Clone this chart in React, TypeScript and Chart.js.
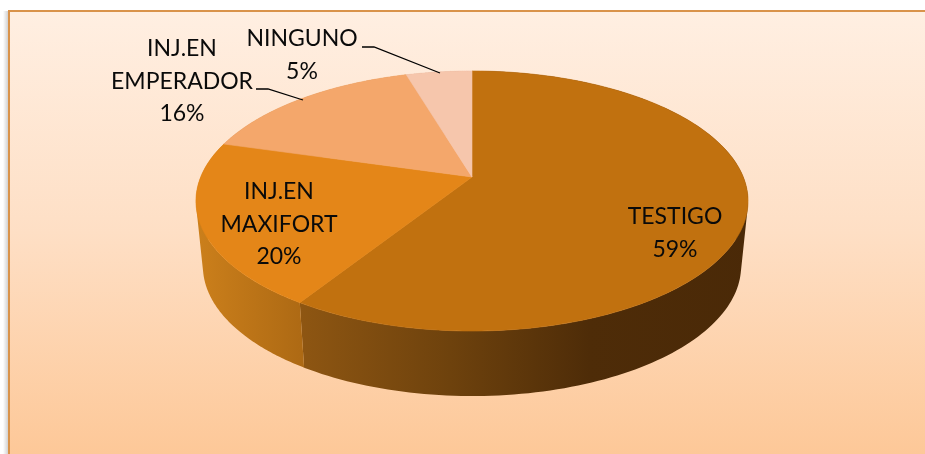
import React, { useEffect, useRef } from "react";
import { Chart, registerables } from "chart.js";

Chart.register(...registerables);

const categories = ["TESTIGO", "INJ.EN MAXIFORT", "INJ.EN EMPERADOR", "NINGUNO"];
const shares = [59.0, 20.45, 15.95, 4.6];
const topColors = ["#c1710f", "#e48618", "#f4a76b", "#f6c6ac"];
const wallStops = [
  [[300, "#8e5612"], [450, "#6e420d"], [590, "#4e2c08"], [760, "#4a2907"]],
  [[198, "#cb7f1b"], [300, "#ae6a14"]],
  [[220, "#d08a4e"], [410, "#d08a4e"]],
  [[400, "#d0a58a"], [475, "#d0a58a"]],
] as [number, string][][];
const labelLines = [["TESTIGO"], ["INJ.EN", "MAXIFORT"], ["INJ.EN", "EMPERADOR"], ["NINGUNO"]];
const labelAnchors = [[675, 217], [279, 192], [182, 49], [302, 39]];
const leaderLines = [
  [],
  [],
  [[256, 89], [268, 89], [303, 100]],
  [[362, 47], [374, 47], [440, 73]],
];

const W = 925;
const H = 454;
const P = -0.1846;
const TOP = { cx: 472, cy: 177, a: 271.3, b: 125.6 };
const BOT = { cx: 472, cy: 242, a: 264.5, b: 125.6 };

function project(f: typeof TOP, t: number): [number, number] {
  const u = Math.cos(t);
  const v = Math.sin(t);
  const w = 1 + P * v;
  return [f.cx + (f.a * u) / w, f.cy + (f.b * v) / w];
}

function area(q: [number, number][]) {
  let s = 0;
  q.forEach((p, i) => {
    const r = q[(i + 1) % q.length];
    s += p[0] * r[1] - r[0] * p[1];
  });
  return s;
}

const pie3d = {
  id: "pie3d",
  beforeDraw(chart: any) {
    const { ctx } = chart;
    ctx.save();
    ctx.clearRect(0, 0, W, H);
    ctx.fillStyle = "#ffffff";
    ctx.fillRect(0, 0, W, H);
    const sh = ctx.createLinearGradient(3, 0, 8, 0);
    sh.addColorStop(0, "rgba(90,90,90,0)");
    sh.addColorStop(1, "rgba(90,90,90,0.28)");
    ctx.fillStyle = sh;
    ctx.fillRect(3, 11, 5, H);
    const bg = ctx.createLinearGradient(0, 10, 0, H);
    bg.addColorStop(0, "#ffefe2");
    bg.addColorStop(0.5, "#fedfc5");
    bg.addColorStop(1, "#fdc898");
    ctx.fillStyle = bg;
    ctx.fillRect(8, 10, W - 8, H - 10);
    ctx.fillStyle = "#d9934b";
    ctx.fillRect(8, 10, W - 8, 2);
    ctx.fillRect(8, 10, 2, H - 10);
    ctx.restore();
  },
  beforeDatasetDraw(chart: any) {
    const { ctx } = chart;
    const arcs = chart.getDatasetMeta(0).data;
    ctx.save();
    arcs.forEach((arc: any, i: number) => {
      const x0 = wallStops[i][0][0];
      const x1 = wallStops[i][wallStops[i].length - 1][0];
      const g = ctx.createLinearGradient(x0, 0, x1, 0);
      wallStops[i].forEach(([x, c]) => g.addColorStop((x - x0) / (x1 - x0), c));
      ctx.fillStyle = g;
      ctx.beginPath();
      const n = 160;
      for (let k = 0; k < n; k++) {
        const t0 = arc.startAngle + ((arc.endAngle - arc.startAngle) * k) / n;
        const t1 = arc.startAngle + ((arc.endAngle - arc.startAngle) * (k + 1)) / n;
        let q = [project(TOP, t0), project(TOP, t1), project(BOT, t1), project(BOT, t0)];
        if (area(q) < 0) q = q.reverse();
        ctx.moveTo(q[0][0], q[0][1]);
        for (let m = 1; m < 4; m++) ctx.lineTo(q[m][0], q[m][1]);
        ctx.closePath();
      }
      ctx.fill();
    });
    arcs.forEach((arc: any) => {
      ctx.fillStyle = arc.options.backgroundColor;
      ctx.strokeStyle = arc.options.backgroundColor;
      ctx.lineWidth = 0.6;
      ctx.beginPath();
      ctx.moveTo(TOP.cx, TOP.cy);
      const n = 200;
      for (let k = 0; k <= n; k++) {
        const p = project(TOP, arc.startAngle + ((arc.endAngle - arc.startAngle) * k) / n);
        ctx.lineTo(p[0], p[1]);
      }
      ctx.closePath();
      ctx.fill();
      ctx.stroke();
    });
    ctx.restore();
    return false;
  },
  afterDraw(chart: any) {
    const { ctx } = chart;
    const values: number[] = chart.data.datasets[0].data;
    const total = values.reduce((s, v) => s + v, 0);
    ctx.save();
    ctx.strokeStyle = "#000000";
    ctx.lineWidth = 1.3;
    leaderLines.forEach((pts) => {
      if (!pts.length) return;
      ctx.beginPath();
      pts.forEach(([x, y], k) => (k ? ctx.lineTo(x, y) : ctx.moveTo(x, y)));
      ctx.stroke();
    });
    ctx.fillStyle = "#0a0a0a";
    ctx.font = "23px Lato, 'Open Sans', sans-serif";
    ctx.textAlign = "center";
    ctx.textBaseline = "middle";
    values.forEach((v, i) => {
      const lines = [...labelLines[i], Math.round((v / total) * 100) + "%"];
      lines.forEach((line, k) => ctx.fillText(line, labelAnchors[i][0], labelAnchors[i][1] + k * 32.5));
    });
    ctx.restore();
  },
};

export default function App() {
  const ref = useRef<HTMLCanvasElement | null>(null);
  useEffect(() => {
    const chart = new Chart(ref.current as HTMLCanvasElement, {
      type: "pie",
      data: {
        labels: categories,
        datasets: [{ data: shares, backgroundColor: topColors, borderWidth: 0 }],
      },
      options: {
        responsive: false,
        animation: false,
        rotation: 0,
        plugins: { legend: { display: false }, tooltip: { enabled: false } },
      },
      plugins: [pie3d],
    } as any);
    return () => chart.destroy();
  }, []);
  return (
    <canvas
      ref={ref}
      width={W}
      height={H}
      style={{ position: "fixed", left: 0, top: 0, width: W, height: H, display: "block" }}
    />
  );
}
